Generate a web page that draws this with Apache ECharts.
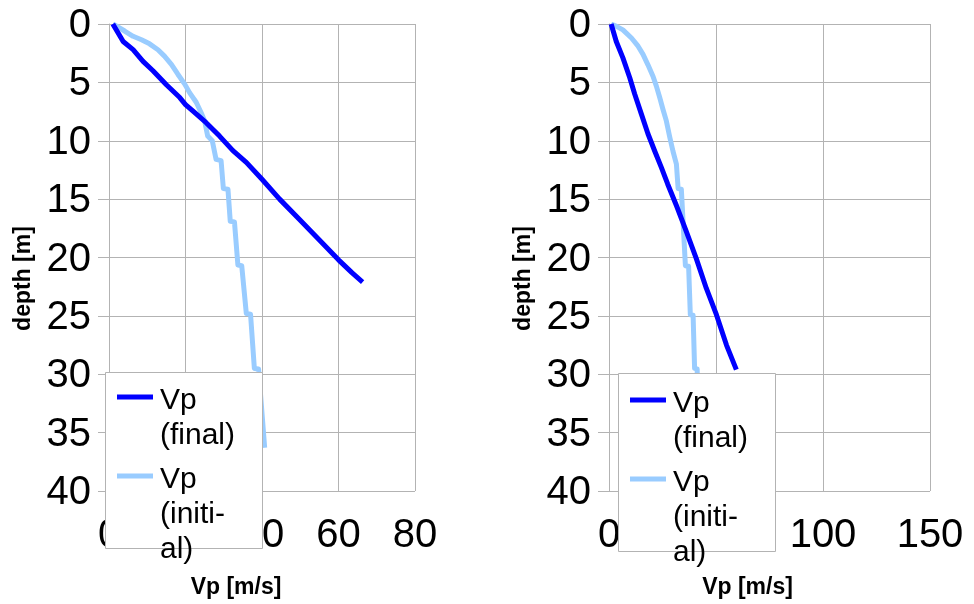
<!DOCTYPE html>
<html>
<head>
<meta charset="utf-8">
<title>Vp depth profiles</title>
<script src="https://cdn.jsdelivr.net/npm/echarts@6/dist/echarts.min.js"></script>
<style>
  html, body { margin: 0; padding: 0; background: #ffffff; }
  #chart { width: 974px; height: 604px; }
</style>
</head>
<body>
<div id="chart"></div>
<script>
// ---- profile data: Vp [m/s] against depth [m] ----
// left model
const leftFinalVp     = [1.0, 3.7, 6.3, 8.9, 11.5, 15.0, 18.5, 20.0, 21.9, 25.4, 28.9, 32.4, 35.9, 40.0, 44.6, 50.0, 55.0, 60.0, 63.5, 66.3];
const leftFinalDepth  = [0.0, 1.5, 2.2, 3.2, 4.0, 5.2, 6.3, 6.9, 7.45, 8.45, 9.6, 10.85, 11.85, 13.3, 15.0, 16.8, 18.5, 20.2, 21.3, 22.1];
const leftInitVp      = [1.0, 4.1, 6.3, 8.5, 10.6, 12.8, 14.5, 16.3, 18.0, 19.8, 21.1, 22.8, 24.1, 25.0, 25.8, 27.0, 28.0, 29.3, 29.9, 31.1, 31.7, 32.8, 33.7, 34.7, 35.9, 37.0, 38.0, 39.1, 40.7];
const leftInitDepth   = [0.0, 0.6, 1.05, 1.35, 1.7, 2.2, 2.75, 3.45, 4.3, 5.15, 5.9, 6.7, 7.6, 8.3, 9.6, 10.0, 11.6, 11.7, 14.1, 14.15, 16.9, 16.95, 20.65, 20.7, 24.8, 24.85, 29.5, 29.55, 36.3];
// right model
const rightFinalVp    = [1.0, 3.4, 6.5, 9.7, 12.0, 15.1, 18.2, 21.4, 24.5, 27.4, 31.5, 36.2, 40.8, 45.5, 50.2, 54.9, 59.5];
const rightFinalDepth = [0.0, 1.5, 2.9, 4.6, 6.0, 7.7, 9.4, 10.9, 12.3, 13.7, 15.55, 17.8, 20.1, 22.65, 24.9, 27.5, 29.6];
const rightInitVp     = [1.0, 3.5, 6.5, 10.5, 13.6, 15.9, 18.2, 20.6, 22.1, 23.7, 25.2, 26.8, 28.4, 29.9, 31.5, 32.3, 33.8, 35.7, 37.2, 38.0, 39.3, 40.0, 41.2, 41.8];
const rightInitDepth  = [0.0, 0.2, 0.5, 1.2, 1.9, 2.6, 3.5, 4.5, 5.3, 6.3, 7.3, 8.3, 9.7, 10.9, 12.0, 14.1, 14.15, 20.7, 20.75, 24.9, 24.95, 29.5, 29.55, 36.3];

// ---- axis ticks and texts ----
const depthTicks    = [0, 5, 10, 15, 20, 25, 30, 35, 40];
const leftVpTicks   = [0, 20, 40, 60, 80];
const rightVpTicks  = [0, 50, 100, 150];
const xAxisTitle    = 'Vp [m/s]';
const yAxisTitle    = 'depth [m]';
const seriesNames   = ['Vp (final)', 'Vp (initial)'];
const legendLabels  = ['Vp\n(final)', 'Vp\n(initi-\nal)'];

const FONT = '"Liberation Sans", Arial, Helvetica, sans-serif';
const GRID_GRAY = '#b3b3b3';
const FINAL_COLOR = '#0000ff';
const INITIAL_COLOR = '#99ccff';
const LEGEND_LINE = 35;

function zip(xs, ys) { return xs.map((x, i) => [x, ys[i]]); }
function step(ticks) { return ticks[1] - ticks[0]; }

function vpAxis(gridIndex, ticks, namePad) {
  return {
    type: 'value', gridIndex: gridIndex,
    min: ticks[0], max: ticks[ticks.length - 1], interval: step(ticks),
    name: xAxisTitle, nameLocation: 'middle', nameGap: 85,
    nameTextStyle: { fontFamily: FONT, fontWeight: 'bold', fontSize: 23, color: '#000', padding: [0, namePad, 0, 0] },
    axisLine: { show: true, lineStyle: { color: GRID_GRAY, width: 1 } },
    axisTick: { show: true, inside: false, length: 11, lineStyle: { color: GRID_GRAY, width: 1 } },
    axisLabel: { fontFamily: FONT, fontSize: 40, color: '#000', margin: 25 },
    splitLine: { show: true, lineStyle: { color: GRID_GRAY, width: 1 } }
  };
}

function depthAxis(gridIndex) {
  return {
    type: 'value', gridIndex: gridIndex, inverse: true,
    min: depthTicks[0], max: depthTicks[depthTicks.length - 1], interval: step(depthTicks),
    name: yAxisTitle, nameLocation: 'middle', nameGap: 74,
    nameTextStyle: { fontFamily: FONT, fontWeight: 'bold', fontSize: 23, color: '#000', padding: [0, 42, 0, 0] },
    axisLine: { show: true, lineStyle: { color: GRID_GRAY, width: 1 } },
    axisTick: { show: true, inside: false, length: 11, lineStyle: { color: GRID_GRAY, width: 1 } },
    // labels sit a touch below their tick
    axisLabel: { fontFamily: FONT, fontSize: 40, lineHeight: 40, color: '#000', margin: 18,
                 verticalAlign: 'top', padding: [-18, 0, 0, 0] },
    splitLine: { show: true, lineStyle: { color: GRID_GRAY, width: 1 } }
  };
}

function profile(name, color, width, xi, data) {
  return {
    type: 'line', name: name, xAxisIndex: xi, yAxisIndex: xi,
    data: data, showSymbol: false, symbol: 'none', smooth: false,
    color: color, itemStyle: { color: color },
    lineStyle: { color: color, width: width, join: 'round' },
    z: 2
  };
}

// Legend text: a spacer line on top keeps the first text line level with the key line.
function legendText(name) {
  const lines = legendLabels[seriesNames.indexOf(name)].split('\n');
  const spacer = '{s' + lines.length + '| }';
  return [spacer].concat(lines.map(l => '{t|' + l + '}')).join('\n');
}

function legendBlock(left, bottom) {
  const t = { fontFamily: FONT, fontSize: 30, lineHeight: LEGEND_LINE, color: '#000' };
  return {
    type: 'plain', orient: 'vertical', left: left, bottom: bottom, padding: 0,
    itemGap: -68, itemWidth: 36, itemHeight: 5, icon: 'rect', selectedMode: false,
    itemStyle: { borderWidth: 0 },
    textStyle: Object.assign({ padding: [0, 0, 0, 2] }, t, {
      rich: {
        t: t,
        s2: Object.assign({}, t, { lineHeight: LEGEND_LINE + 7 }),
        s3: Object.assign({}, t, { lineHeight: 2 * LEGEND_LINE + 7 })
      }
    }),
    formatter: legendText,
    data: [seriesNames[0], seriesNames[1]],
    z: 4
  };
}

const chart = echarts.init(document.getElementById('chart'), null, { renderer: 'canvas' });
chart.setOption({
  animation: false,
  backgroundColor: '#ffffff',
  grid: [
    { left: 109, top: 24, width: 306, height: 469, containLabel: false },
    { left: 609, top: 24, width: 321, height: 469, containLabel: false }
  ],
  xAxis: [vpAxis(0, leftVpTicks, 52), vpAxis(1, rightVpTicks, 44)],
  yAxis: [depthAxis(0), depthAxis(1)],
  legend: [legendBlock(117, 37), legendBlock(630, 34)],
  graphic: [
    { type: 'rect', z: 3, shape: { x: 105.5, y: 372.5, width: 157, height: 176 },
      style: { fill: '#ffffff', stroke: GRID_GRAY, lineWidth: 1 } },
    { type: 'rect', z: 3, shape: { x: 618.5, y: 373.5, width: 157, height: 178 },
      style: { fill: '#ffffff', stroke: GRID_GRAY, lineWidth: 1 } }
  ],
  series: [
    profile(seriesNames[1], INITIAL_COLOR, 5, 0, zip(leftInitVp, leftInitDepth)),
    profile(seriesNames[0], FINAL_COLOR, 5, 0, zip(leftFinalVp, leftFinalDepth)),
    profile(seriesNames[1], INITIAL_COLOR, 5, 1, zip(rightInitVp, rightInitDepth)),
    profile(seriesNames[0], FINAL_COLOR, 5, 1, zip(rightFinalVp, rightFinalDepth))
  ]
});
</script>
</body>
</html>
